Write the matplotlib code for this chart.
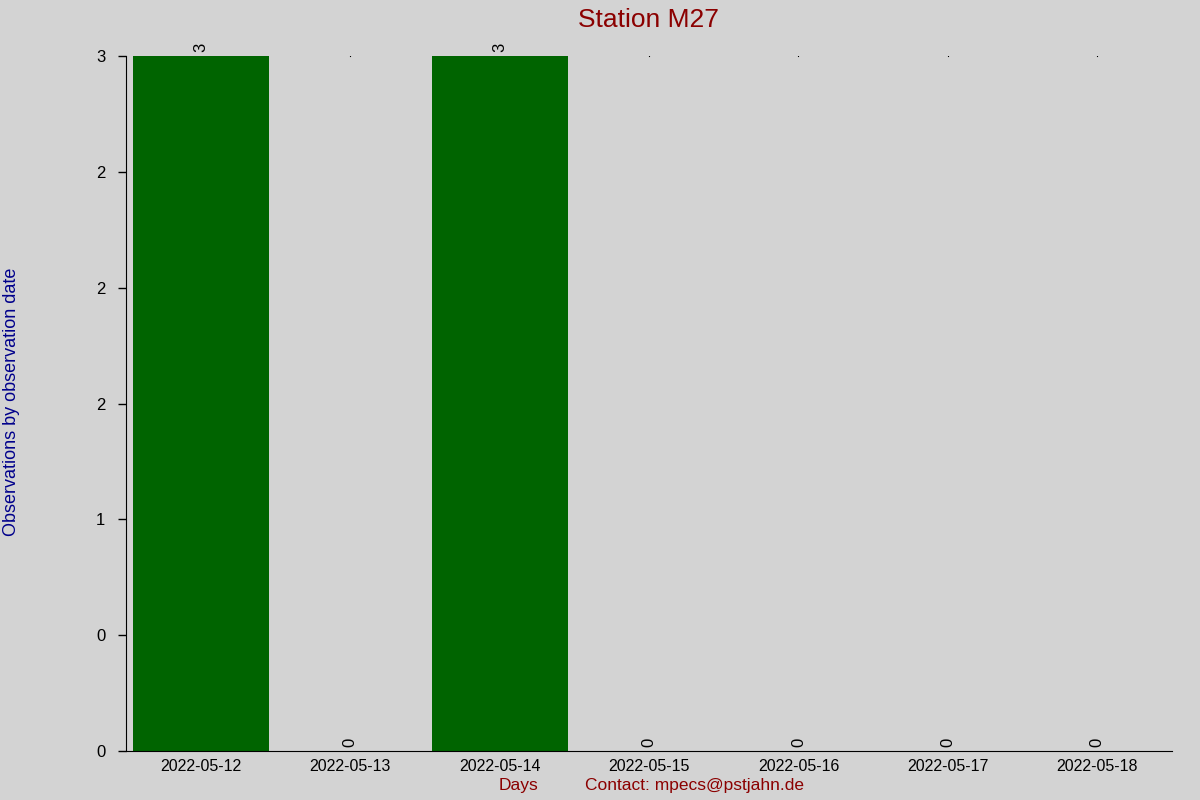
import matplotlib.pyplot as plt
import numpy as np

days = ["2022-05-12", "2022-05-13", "2022-05-14", "2022-05-15",
        "2022-05-16", "2022-05-17", "2022-05-18"]
counts = np.array([3, 0, 3, 0, 0, 0, 0])
ytick_vals = [0, 0.5, 1, 1.5, 2, 2.5, 3]
ytick_labels = ["0", "0", "1", "2", "2", "2", "3"]

plt.rcParams["font.family"] = ["Liberation Sans", "DejaVu Sans"]

fig = plt.figure(figsize=(12, 8), dpi=100, facecolor="#d3d3d3")
ax = fig.add_axes([0.105, 0.06125, 0.8717, 0.86875])
ax.set_facecolor("#d3d3d3")

x = np.arange(len(days))
bars = ax.bar(x, counts, width=0.91, color="#006400")
ax.bar_label(bars, labels=[str(c) for c in counts], rotation=90,
             padding=3, fontsize=12, color="black")

# tiny dots at the top for empty days
zero = counts == 0
ax.plot(x[zero], np.full(zero.sum(), counts.max()), ls="none",
        marker="s", ms=0.8, mew=0, color="black")

ax.set_xlim(-0.5, len(days) - 0.5)
ax.set_ylim(0, counts.max())
ax.set_xticks(x)
ax.set_xticklabels(days, fontsize=11.5)
ax.set_yticks(ytick_vals)
ax.set_yticklabels(ytick_labels, fontsize=12)
ax.tick_params(axis="x", length=0, pad=6)
ax.tick_params(axis="y", length=6, width=1, pad=9)

for s in ["top", "right"]:
    ax.spines[s].set_visible(False)

fig.text(0.54, 0.975, "Station M27", ha="center", va="center",
         fontsize=19, color="#8b0000")
fig.text(0.0095, 0.4975, "Observations by observation date", rotation=90,
         ha="center", va="center", fontsize=13, color="#00008b")
fig.text(0.432, 0.018, "Days", ha="center", va="center",
         fontsize=12.5, color="#8b0000")
fig.text(0.579, 0.018, "Contact: mpecs@pstjahn.de", ha="center", va="center",
         fontsize=12.5, color="#8b0000")

fig.savefig("out.png", dpi=100, facecolor=fig.get_facecolor())
